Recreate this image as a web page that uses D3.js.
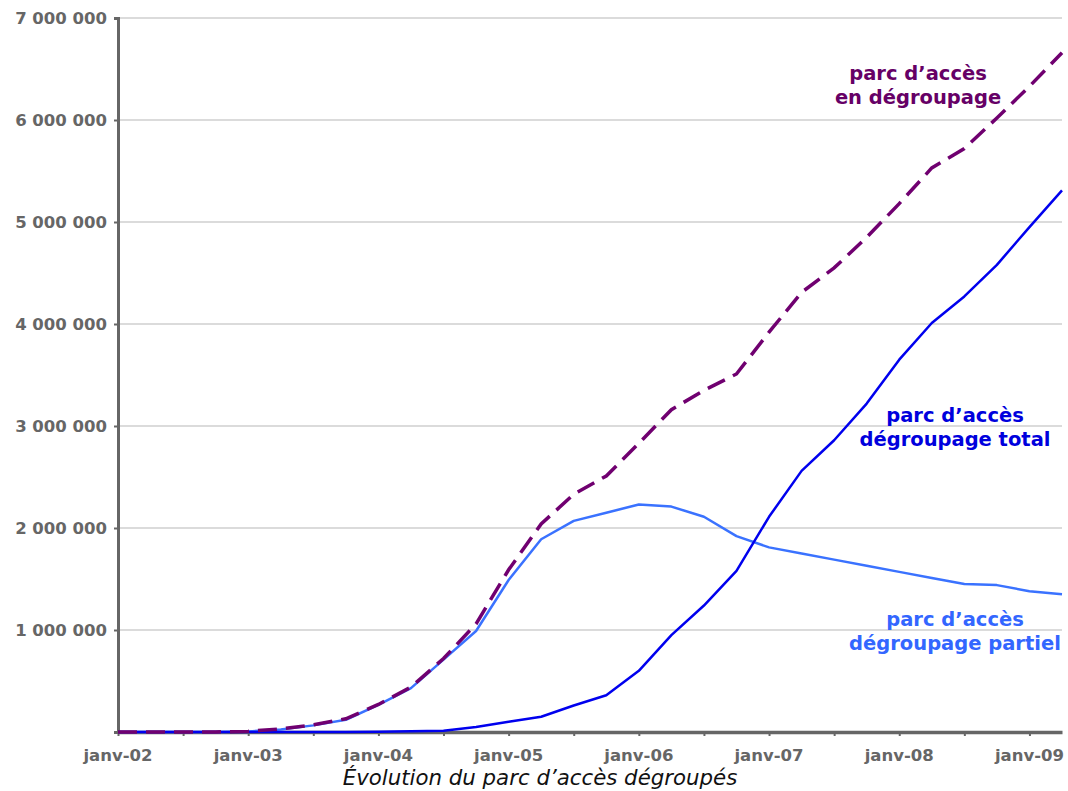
<!DOCTYPE html>
<html>
<head>
<meta charset="utf-8">
<script src="https://cdn.jsdelivr.net/npm/d3@7"></script>
<style>
  body { margin: 0; background: #fff; }
  svg { display: block; }
  text { font-family: "DejaVu Sans", Verdana, sans-serif; }
</style>
</head>
<body>
<svg id="chart" width="1068" height="791"></svg>
<script>
// Quarterly data, janv-02 .. avr-09
const quarters = ["2002-01","2002-04","2002-07","2002-10","2003-01","2003-04","2003-07","2003-10",
  "2004-01","2004-04","2004-07","2004-10","2005-01","2005-04","2005-07","2005-10",
  "2006-01","2006-04","2006-07","2006-10","2007-01","2007-04","2007-07","2007-10",
  "2008-01","2008-04","2008-07","2008-10","2009-01","2009-04"];

const partiel = [0,0,0,0,5000,25000,65000,120000,265000,430000,710000,990000,1490000,1890000,2070000,2150000,
  2230000,2210000,2110000,1920000,1810000,1750000,1690000,1630000,1570000,1510000,1450000,1440000,1380000,1350000];

const total = [0,0,0,0,0,0,0,0,3000,8000,12000,50000,100000,150000,260000,360000,
  600000,950000,1240000,1580000,2110000,2560000,2860000,3220000,3650000,4010000,4270000,4580000,4950000,5310000];

const enDegroupage = [0,0,0,0,8000,30000,70000,130000,270000,440000,720000,1060000,1590000,2040000,2330000,2510000,
  2830000,3160000,3350000,3510000,3920000,4310000,4550000,4850000,5180000,5530000,5720000,6020000,6330000,6660000];

const xTickQuarters = [0,2,4,6,8,10,12,14,16,18,20,22,24,26,28];
const xLabelQuarters = [0,4,8,12,16,20,24,28];
const xTickLabels = ["janv-02","janv-03","janv-04","janv-05","janv-06","janv-07","janv-08","janv-09"];
const yTicks = [0,1000000,2000000,3000000,4000000,5000000,6000000,7000000];
const yTickLabels = ["","1 000 000","2 000 000","3 000 000","4 000 000","5 000 000","6 000 000","7 000 000"];

const svg = d3.select("#chart");
const L = 118, R = 1062, T = 18, B = 732;

const x = d3.scaleLinear().domain([0, quarters.length - 1]).range([L, R]);
const y = d3.scaleLinear().domain([0, 7000000]).range([B, T]);

// gridlines
svg.append("g").selectAll("line").data(yTicks.slice(1)).join("line")
  .attr("x1", L).attr("x2", R)
  .attr("y1", d => y(d)).attr("y2", d => y(d))
  .attr("stroke", "#cfcfcf").attr("stroke-width", 1.5);

// y axis
const yAxis = svg.append("g").attr("transform", `translate(${L},0)`)
  .call(d3.axisLeft(y).tickValues(yTicks).tickSize(4).tickPadding(8)
    .tickFormat((d, i) => yTickLabels[i]));
yAxis.select(".domain").attr("stroke", "#666").attr("stroke-width", 3);
yAxis.selectAll(".tick line").attr("stroke", "#666").attr("stroke-width", 2);
yAxis.selectAll(".tick text").attr("fill", "#666").attr("font-size", "16.5px")
  .attr("font-weight", "bold").attr("dy", "0.35em").attr("x", -11);

// x axis
const xAxis = svg.append("g").attr("transform", `translate(0,${B})`)
  .call(d3.axisBottom(x).tickValues(xTickQuarters).tickSize(4).tickSizeOuter(0)
    .tickFormat(() => ""));
xAxis.select(".domain").attr("stroke", "#666").attr("stroke-width", 3.5);
xAxis.selectAll(".tick line").attr("stroke", "#666").attr("stroke-width", 2);

svg.append("g").selectAll("text").data(xLabelQuarters).join("text")
  .attr("x", d => x(d)).attr("y", 761)
  .attr("text-anchor", "middle")
  .attr("fill", "#666").attr("font-size", "16.5px").attr("font-weight", "bold")
  .text((d, i) => xTickLabels[i]);

// lines
const line = d3.line().x((d, i) => x(i)).y(d => y(d));

svg.append("path").datum(partiel).attr("d", line)
  .attr("fill", "none").attr("stroke", "#3a72ff").attr("stroke-width", 2.5)
  .attr("stroke-linejoin", "round");

svg.append("path").datum(total).attr("d", line)
  .attr("fill", "none").attr("stroke", "#0000ee").attr("stroke-width", 2.5)
  .attr("stroke-linejoin", "round");

svg.append("path").datum(enDegroupage).attr("d", line)
  .attr("fill", "none").attr("stroke", "#700070").attr("stroke-width", 3.5)
  .attr("stroke-dasharray", "19,9");

// series labels
const labels = [
  { lines: ["parc d’accès", "en dégroupage"], x: 918, y: 80, color: "#660066" },
  { lines: ["parc d’accès", "dégroupage total"], x: 955, y: 422, color: "#0000dd" },
  { lines: ["parc d’accès", "dégroupage partiel"], x: 955, y: 626, color: "#3366ff" }
];
labels.forEach(l => {
  const t = svg.append("text").attr("text-anchor", "middle")
    .attr("fill", l.color).attr("font-size", "19.5px").attr("font-weight", "bold");
  l.lines.forEach((s, i) => {
    t.append("tspan").attr("x", l.x).attr("y", l.y + i * 24).text(s);
  });
});

// title
svg.append("text").attr("x", 540).attr("y", 785)
  .attr("text-anchor", "middle").attr("font-size", "21.3px")
  .attr("font-style", "italic").attr("fill", "#111")
  .text("Évolution du parc d’accès dégroupés");
</script>
</body>
</html>
